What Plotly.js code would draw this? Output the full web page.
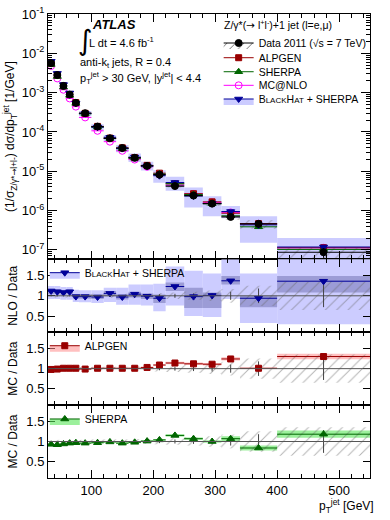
<!DOCTYPE html>
<html>
<head>
<meta charset="utf-8">
<script src="https://cdn.plot.ly/plotly-3.0.1.min.js"></script>
<style>
  body { margin: 0; background: #fff; }
  #chart { width: 390px; height: 520px; }
</style>
</head>
<body>
<div id="chart"></div>
<script>
// bin edges of the leading jet pT (GeV)
var binEdges = [30, 40, 50, 60, 70, 80, 100, 120, 140, 160, 180, 200, 220, 250, 280, 310, 340, 400, 550];

// measured (1/sigma) dsigma/dpT [1/GeV]
var dataXs = [5.6e-3, 2.8e-3, 1.48e-3, 8.9e-4, 5.5e-4, 3.0e-4, 1.37e-4, 6.9e-5, 3.9e-5, 2.2e-5,
              1.37e-5, 8.2e-6, 4.2e-6, 2.4e-6, 1.5e-6, 6.9e-7, 4.6e-7, 8.7e-8];
var dataStat = [0.005, 0.005, 0.006, 0.007, 0.008, 0.008, 0.01, 0.015, 0.02, 0.025,
                0.03, 0.04, 0.05, 0.06, 0.07, 0.1, 0.18, 0.28];
var dataSyst = [0.04, 0.04, 0.04, 0.04, 0.04, 0.04, 0.05, 0.05, 0.05, 0.06,
                0.06, 0.07, 0.08, 0.1, 0.13, 0.17, 0.25, 0.35];

// prediction / data
var bhRatio = [1.12, 1.1, 1.08, 1.1, 0.98, 0.98, 0.97, 1.06, 0.97, 1.04, 0.99, 0.94, 1.23, 0.98, 1.01, 1.37, 0.94, 1.36];
var bhLightLo = [0.92, 0.92, 0.9, 0.9, 0.85, 0.84, 0.82, 0.85, 0.78, 0.78, 0.76, 0.62, 0.76, 0.5, 0.48, 0.92, 0.33, 0.3];
var bhLightHi = [1.24, 1.24, 1.22, 1.22, 1.15, 1.14, 1.14, 1.2, 1.2, 1.28, 1.28, 1.3, 1.72, 1.62, 1.55, 1.9, 1.55, 2.3];
var bhDarkLo = [1.04, 1.04, 1.02, 1.04, 0.93, 0.93, 0.92, 0.99, 0.91, 0.96, 0.92, 0.82, 1.12, 0.7, 0.7, 1.28, 0.72, 1.08];
var bhDarkHi = [1.16, 1.16, 1.14, 1.16, 1.04, 1.04, 1.03, 1.12, 1.04, 1.1, 1.06, 1.03, 1.33, 1.2, 1.08, 1.49, 1.0, 1.49];

var alpgenRatio = [0.98, 0.99, 1.01, 1.01, 1.01, 0.99, 1.01, 1.01, 1.01, 1.01, 1.03, 1.09, 1.14, 1.12, 1.11, 1.24, 1.01, 1.3];
var alpgenErr = [0.01, 0.01, 0.01, 0.01, 0.01, 0.01, 0.01, 0.01, 0.01, 0.015, 0.015, 0.02, 0.03, 0.03, 0.03, 0.04, 0.01, 0.07];

var sherpaRatio = [0.93, 0.92, 0.94, 0.96, 0.97, 0.96, 0.97, 0.99, 0.96, 0.98, 1.01, 1.04, 1.15, 1.07, 1.0, 1.07, 0.84, 1.18];
var sherpaErr = [0.015, 0.015, 0.015, 0.015, 0.015, 0.015, 0.015, 0.015, 0.02, 0.02, 0.02, 0.02, 0.03, 0.03, 0.03, 0.06, 0.06, 0.09];

var mcnloRatio = [0.85, 0.82, 0.8, 0.8, 0.8, 0.78, 0.78, 0.82, 0.85, 0.9, 0.95, 1.0, 1.05, 1.1, 1.08, 1.3, 1.0, 1.3];

var centres = [], widths = [], halfW = [], ones = [];
for (var i = 0; i < binEdges.length - 1; i++) {
    centres.push((binEdges[i] + binEdges[i + 1]) / 2);
    widths.push(binEdges[i + 1] - binEdges[i]);
    halfW.push((binEdges[i + 1] - binEdges[i]) / 2);
    ones.push(1);
}
function times(a, b) { return a.map(function (v, k) { return v * b[k]; }); }

var RED = '#990000', GREEN = '#006600', MAG = '#ff00ff', NAVY = '#000099';
var FONT = 'Liberation Sans, Arial, sans-serif';
var BH_LABEL = 'B<span style="font-size:8px">LACK</span>H<span style="font-size:8px">AT</span> + SHERPA';
var ARROW = '<span style="font-family:DejaVu Sans">\u2192</span>';

var hatch = {shape: '/', fgcolor: '#666', bgcolor: 'rgba(0,0,0,0)', size: 8, solidity: 0.12, fillmode: 'overlay'};

function bandBar(xa, ya, lo, hi, color, pattern) {
    var t = {
        type: 'bar', x: centres, width: widths, base: lo,
        y: hi.map(function (v, k) { return v - lo[k]; }),
        xaxis: xa, yaxis: ya, showlegend: false, hoverinfo: 'skip',
        marker: {color: color, line: {width: 0}}
    };
    if (pattern) t.marker.pattern = pattern;
    return t;
}
function points(xa, ya, y, color, symbol, size, extra) {
    var t = {
        type: 'scatter', mode: 'markers', x: centres, y: y, xaxis: xa, yaxis: ya, showlegend: false,
        marker: {color: color, symbol: symbol, size: size, line: {color: color, width: 1}},
        error_x: {type: 'data', array: halfW, color: color, thickness: 1, width: 0}
    };
    if (extra) Object.assign(t, extra);
    return t;
}

var traces = [];

// ---- main panel
var dataLo = dataXs.map(function (v, k) { return v * (1 - dataSyst[k]); });
var dataHi = dataXs.map(function (v, k) { return v * (1 + dataSyst[k]); });
traces.push(bandBar('x', 'y', times(dataXs, bhLightLo), times(dataXs, bhLightHi), '#ccccff'));
traces.push(bandBar('x', 'y', dataLo, dataHi, 'rgba(0,0,0,0)', hatch));
traces.push(points('x', 'y', times(dataXs, mcnloRatio), MAG, 'circle-open', 7));
traces.push(points('x', 'y', times(dataXs, alpgenRatio), RED, 'square', 6));
traces.push(points('x', 'y', times(dataXs, sherpaRatio), GREEN, 'triangle-up', 7));
traces.push(points('x', 'y', times(dataXs, bhRatio), NAVY, 'triangle-down', 7));
traces.push(points('x', 'y', dataXs, '#000', 'circle', 7, {
    error_y: {type: 'data', array: times(dataXs, dataStat), color: '#000', thickness: 1, width: 0},
    error_x: {type: 'data', array: halfW, color: '#000', thickness: 1.2, width: 0}
}));

// ---- ratio panels
function dataRatio(xa, ya) {
    var lo = dataSyst.map(function (s) { return 1 - s; });
    var hi = dataSyst.map(function (s) { return 1 + s; });
    traces.push(bandBar(xa, ya, lo, hi, 'rgba(0,0,0,0)', hatch));
    traces.push({
        type: 'scatter', mode: 'markers', x: centres, y: ones, xaxis: xa, yaxis: ya, showlegend: false,
        marker: {size: 1, color: '#000'},
        error_y: {type: 'data', array: dataStat, color: '#444', thickness: 1, width: 0}
    });
}

traces.push(bandBar('x2', 'y2', bhLightLo, bhLightHi, '#ccccff'));
traces.push(bandBar('x2', 'y2', bhDarkLo, bhDarkHi, '#9c9cd6'));
dataRatio('x2', 'y2');
traces.push(points('x2', 'y2', bhRatio, NAVY, 'triangle-down', 7));

traces.push(bandBar('x3', 'y3',
    alpgenRatio.map(function (v, k) { return v - alpgenErr[k]; }),
    alpgenRatio.map(function (v, k) { return v + alpgenErr[k]; }), 'rgba(255,140,140,0.55)'));
dataRatio('x3', 'y3');
traces.push(points('x3', 'y3', alpgenRatio, RED, 'square', 6));

traces.push(bandBar('x4', 'y4',
    sherpaRatio.map(function (v, k) { return v - sherpaErr[k]; }),
    sherpaRatio.map(function (v, k) { return v + sherpaErr[k]; }), 'rgba(90,230,90,0.6)'));
dataRatio('x4', 'y4');
traces.push(points('x4', 'y4', sherpaRatio, GREEN, 'triangle-up', 7));

// ---- legend entries (one legend box each, so the rows can sit as tight as in the original)
function legendItem(name, legend, color, symbol, size, fill, pattern) {
    var t = {
        type: 'scatter', mode: 'lines+markers', x: [null], y: [null], name: name, legend: legend,
        xaxis: 'x', yaxis: 'y', hoverinfo: 'skip',
        line: {color: color, width: 1},
        marker: {color: color, symbol: symbol, size: size, line: {color: color, width: 1}}
    };
    if (fill) { t.fill = 'toself'; t.fillcolor = fill; }
    if (pattern) t.fillpattern = pattern;
    return t;
}
traces.push(legendItem('Data 2011 (\u221As = 7 TeV)', 'legend', '#000', 'circle', 7, 'rgba(0,0,0,0)', {shape: '/', fgcolor: '#666', size: 6, solidity: 0.15}));
traces.push(legendItem('ALPGEN', 'legend5', RED, 'square', 6));
traces.push(legendItem('SHERPA', 'legend6', GREEN, 'triangle-up', 7));
traces.push(legendItem('MC@NLO', 'legend7', MAG, 'circle-open', 7));
traces.push(legendItem(BH_LABEL, 'legend8', NAVY, 'triangle-down', 7, '#ccccff'));
traces.push(legendItem(BH_LABEL, 'legend2', NAVY, 'triangle-down', 7, '#ccccff'));
traces.push(legendItem('ALPGEN', 'legend3', RED, 'square', 6, 'rgba(255,140,140,0.55)'));
traces.push(legendItem('SHERPA', 'legend4', GREEN, 'triangle-up', 7, 'rgba(90,230,90,0.6)'));

// ---- axes
function xAxis(anchor, labels) {
    return {
        domain: [0, 1], anchor: anchor, range: [30, 550], matches: anchor === 'y' ? undefined : 'x',
        showline: true, linecolor: '#000', linewidth: 1, mirror: 'allticks',
        ticks: 'inside', ticklen: 8, tickcolor: '#000', dtick: 100, tick0: 0,
        minor: {ticks: 'inside', ticklen: 4, dtick: 20, tickcolor: '#000'},
        showgrid: false, zeroline: false, showticklabels: labels,
        tickfont: {size: 13, family: FONT, color: '#000'}
    };
}
function ratioAxis(domain, anchor, title) {
    return {
        domain: domain, anchor: anchor, range: [0.1, 1.9],
        tickvals: [0.5, 1, 1.5], ticktext: ['0.5', '1', '1.5'],
        showline: true, linecolor: '#000', linewidth: 1, mirror: 'allticks',
        ticks: 'inside', ticklen: 7, tickcolor: '#000', showgrid: false, zeroline: false,
        tickfont: {size: 13, family: FONT, color: '#000'},
        title: {text: title, font: {size: 12, family: FONT, color: '#000'}, standoff: 6}
    };
}

function legendAt(x, y) {
    return {
        x: x, y: y, xanchor: 'left', yanchor: 'middle',
        bgcolor: 'rgba(0,0,0,0)', borderwidth: 0,
        font: {size: 10.5, family: FONT, color: '#000'}, itemwidth: 30, tracegroupgap: 0
    };
}

function note(x, y, text, size, family) {
    return {xref: 'paper', yref: 'paper', x: x, y: y, xanchor: 'left', yanchor: 'middle', align: 'left',
            showarrow: false, text: text, font: {size: size, family: family || FONT, color: '#000'}};
}

var layout = {
    width: 390, height: 520,
    margin: {l: 48, r: 20, t: 14, b: 42},
    paper_bgcolor: '#fff', plot_bgcolor: '#fff',
    barmode: 'overlay',
    font: {family: FONT, color: '#000'},
    xaxis: xAxis('y', false),
    xaxis2: xAxis('y2', false),
    xaxis3: xAxis('y3', false),
    xaxis4: xAxis('y4', true),
    yaxis: {
        domain: [0.4713, 1], anchor: 'x', type: 'log', range: [-7.24, -1],
        tickvals: [1e-7, 1e-6, 1e-5, 1e-4, 1e-3, 1e-2, 1e-1],
        ticktext: ['10<sup>-7</sup>', '10<sup>-6</sup>', '10<sup>-5</sup>', '10<sup>-4</sup>', '10<sup>-3</sup>', '10<sup>-2</sup>', '10<sup>-1</sup>'],
        minor: {tickmode: 'linear', dtick: 'D1', ticks: 'inside', ticklen: 4, tickcolor: '#000'},
        showline: true, linecolor: '#000', linewidth: 1, mirror: 'allticks',
        ticks: 'inside', ticklen: 9, tickcolor: '#000', showgrid: false, zeroline: false,
        tickfont: {size: 13, family: FONT, color: '#000'},
        title: {text: '(1/\u03c3<sub>Z/\u03b3*' + ARROW + 'l+l-</sub>) d\u03c3/dp<sub>T</sub><sup>jet</sup> [1/GeV]',
                font: {size: 12, family: FONT, color: '#000'}, standoff: 4}
    },
    yaxis2: ratioAxis([0.314, 0.4713], 'x2', 'NLO / Data'),
    yaxis3: ratioAxis([0.1573, 0.314], 'x3', 'MC / Data'),
    yaxis4: ratioAxis([0, 0.1573], 'x4', 'MC / Data'),
    legend: legendAt(0.53, 0.9375),
    legend5: legendAt(0.53, 0.9058),
    legend6: legendAt(0.53, 0.8756),
    legend7: legendAt(0.53, 0.8463),
    legend8: legendAt(0.53, 0.8168),
    legend2: legendAt(-0.01, 0.4425),
    legend3: legendAt(-0.01, 0.2851),
    legend4: legendAt(-0.01, 0.1272),
    shapes: ['2', '3', '4'].map(function (n) {
        return {type: 'line', xref: 'x' + n + ' domain', yref: 'y' + n, x0: 0, x1: 1, y0: 1, y1: 1,
                line: {color: '#555', width: 1}};
    }),
    annotations: [
        note(0.54, 0.978, 'Z/\u03b3*(' + ARROW + ' l<sup>+</sup>l<sup>-</sup>)+1 jet (l=e,\u03bc)', 10.5),
        note(0.13, 0.978, '<b><i>ATLAS</i></b>', 13),
        note(0.088, 0.942, '\u222b', 28, 'DejaVu Sans, sans-serif'),
        note(0.121, 0.94, 'L dt = 4.6 fb<sup>-1</sup>', 11),
        note(0.093, 0.894, 'anti-k<sub>t</sub> jets, R = 0.4', 11),
        note(0.093, 0.862, 'p<sub>T</sub><sup>jet</sup> > 30 GeV, |y<sup>jet</sup>| < 4.4', 11),
        {xref: 'paper', yref: 'paper', x: 1.02, y: -0.06, xanchor: 'right', yanchor: 'middle', showarrow: false,
         text: 'p<sub>T</sub><sup>jet</sup> [GeV]', font: {size: 12, family: FONT}}
    ]
};

Plotly.newPlot('chart', traces, layout, {staticPlot: true, displayModeBar: false});
</script>
</body>
</html>
